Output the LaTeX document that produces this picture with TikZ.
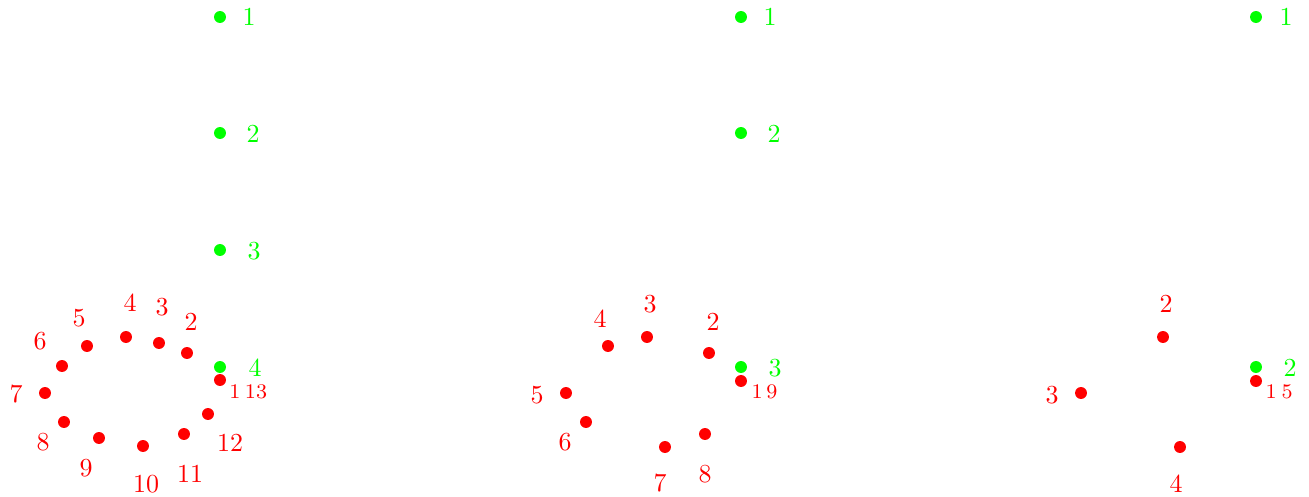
\documentclass[tikz,border=0pt]{standalone}
\usepackage{xcolor}
\usepackage{tikz}

\begin{document}
\begin{tikzpicture}[x=0.01353cm, y=-0.01353cm,
  reddot/.style={circle, fill=red, inner sep=0pt, minimum size=4.6pt},
  greendot/.style={circle, fill=green, inner sep=0pt, minimum size=4.6pt},
  redlbl/.style={text=red, inner sep=0pt},
  greenlbl/.style={text=green, inner sep=0pt},
  smalllbl/.style={text=red, inner sep=0pt, font=\footnotesize}]
  \useasboundingbox (0,0) rectangle (1309,496);

  % Panel 1 (thirteen points)
  \foreach \i/\y in {1/17, 2/133, 3/250, 4/367}
    \node[greendot] (ga\i) at (220,\y) {};
  \foreach \i/\x/\y in {1/249/17, 2/253/134, 3/254/251, 4/255/368}
    \node[greenlbl] (gla\i) at (\x,\y) {\i};
  \foreach \i/\x/\y in {1/220/380, 2/187/353, 3/159/343, 4/126/337, 5/87/346,
      6/62/366, 7/45/393, 8/64/422, 9/99/438, 10/143/446, 11/184/434, 12/208/414}
    \node[reddot] (a\i) at (\x,\y) {};
  \foreach \i/\x/\y in {2/191/322, 3/162/307, 4/130/303, 5/79/318, 6/40/341,
      7/16/394, 8/43/442, 9/86/468, 10/146/484, 11/190/474, 12/230/443}
    \node[redlbl] (la\i) at (\x,\y) {\i};
  \node[smalllbl] (la1) at (235,392) {1};
  \node[smalllbl] (la13) at (256,392) {13};

  % Panel 2 (nine points)
  \foreach \i/\y in {1/17, 2/133, 3/367}
    \node[greendot] (gb\i) at (741,\y) {};
  \foreach \i/\x/\y in {1/770/17, 2/774/134, 3/775/368}
    \node[greenlbl] (glb\i) at (\x,\y) {\i};
  \foreach \i/\x/\y in {1/741/381, 2/709/353, 3/647/337, 4/608/346,
      5/566/393, 6/586/422, 7/665/447, 8/705/434}
    \node[reddot] (b\i) at (\x,\y) {};
  \foreach \i/\x/\y in {2/713/322, 3/650/304, 4/600/319, 5/537/395,
      6/565/442, 7/660/483, 8/705/474}
    \node[redlbl] (lb\i) at (\x,\y) {\i};
  \node[smalllbl] (lb1) at (757,392) {1};
  \node[smalllbl] (lb9) at (772,392) {9};

  % Panel 3 (five points)
  \foreach \i/\y in {1/17, 2/367}
    \node[greendot] (gc\i) at (1256,\y) {};
  \node[greenlbl] (glc1) at (1286,17) {1};
  \node[greenlbl] (glc2) at (1290,368) {2};
  \foreach \i/\x/\y in {1/1256/381, 2/1163/337, 3/1081/393, 4/1180/447}
    \node[reddot] (c\i) at (\x,\y) {};
  \foreach \i/\x/\y in {2/1166/304, 3/1052/395, 4/1176/484}
    \node[redlbl] (lc\i) at (\x,\y) {\i};
  \node[smalllbl] (lc1) at (1271,392) {1};
  \node[smalllbl] (lc5) at (1287,392) {5};
\end{tikzpicture}
\end{document}
